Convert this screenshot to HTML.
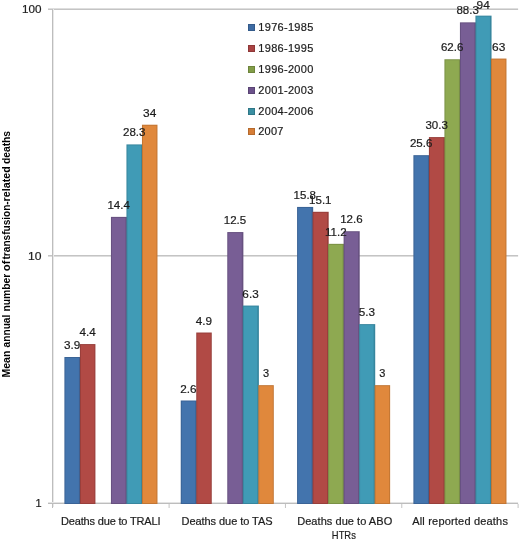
<!DOCTYPE html>
<html><head><meta charset="utf-8"><style>
html,body{margin:0;padding:0;background:#fff;}
svg{display:block;will-change:transform;}
.t{font-family:"Liberation Sans", sans-serif;font-size:11px;fill:#1c1c1c;stroke:#1c1c1c;stroke-width:0.2px;}
.tb{font-family:"Liberation Sans", sans-serif;font-size:11px;font-weight:bold;fill:#000;}
</style></head><body>
<svg width="520" height="540" viewBox="0 0 520 540">
<rect width="520" height="540" fill="#fff"/>
<rect x="48" y="8" width="470.1" height="1" fill="#DEDEDE"/>
<rect x="48" y="9" width="470.1" height="1" fill="#C4C4C4"/>
<rect x="48" y="256" width="470.1" height="1" fill="#DEDEDE"/>
<rect x="48" y="255" width="470.1" height="1" fill="#C4C4C4"/>
<rect x="53" y="9" width="1" height="498.0" fill="#E8E8E8"/>
<rect x="52" y="9" width="1" height="498.0" fill="#BDBDBD"/>
<rect x="48" y="502" width="470.1" height="1" fill="#E4E4E4"/>
<rect x="48" y="503" width="470.1" height="1" fill="#BDBDBD"/>
<rect x="52" y="503" width="1" height="5" fill="#BDBDBD"/>
<rect x="168.60" y="504" width="1" height="4" fill="#C4C4C4"/>
<rect x="284.94" y="504" width="1" height="4" fill="#C4C4C4"/>
<rect x="401.27" y="504" width="1" height="4" fill="#C4C4C4"/>
<rect x="517.60" y="504" width="1" height="4" fill="#C4C4C4"/>
<rect x="64.40" y="357.01" width="16.11" height="146.99" fill="#3A6396"/>
<rect x="65.40" y="358.01" width="13.51" height="144.99" fill="#4374AD"/>
<rect x="79.91" y="344.07" width="15.51" height="159.93" fill="#983F3B"/>
<rect x="80.91" y="345.07" width="13.51" height="157.93" fill="#B14A45"/>
<rect x="110.94" y="216.88" width="16.11" height="287.12" fill="#675180"/>
<rect x="111.94" y="217.88" width="13.51" height="285.12" fill="#785E95"/>
<rect x="126.45" y="144.41" width="16.11" height="359.59" fill="#37869E"/>
<rect x="127.45" y="145.41" width="13.51" height="357.59" fill="#409BB6"/>
<rect x="141.96" y="124.72" width="15.51" height="379.28" fill="#C27634"/>
<rect x="142.96" y="125.72" width="13.51" height="377.28" fill="#E0883C"/>
<rect x="180.74" y="400.50" width="16.11" height="103.50" fill="#3A6396"/>
<rect x="181.74" y="401.50" width="13.51" height="101.50" fill="#4374AD"/>
<rect x="196.25" y="332.52" width="15.51" height="171.48" fill="#983F3B"/>
<rect x="197.25" y="333.52" width="13.51" height="169.48" fill="#B14A45"/>
<rect x="227.27" y="232.06" width="16.11" height="271.94" fill="#675180"/>
<rect x="228.27" y="233.06" width="13.51" height="269.94" fill="#785E95"/>
<rect x="242.78" y="305.56" width="16.11" height="198.44" fill="#37869E"/>
<rect x="243.78" y="306.56" width="13.51" height="196.44" fill="#409BB6"/>
<rect x="258.29" y="385.15" width="15.51" height="118.85" fill="#C27634"/>
<rect x="259.29" y="386.15" width="13.51" height="116.85" fill="#E0883C"/>
<rect x="297.07" y="206.93" width="16.11" height="297.07" fill="#3A6396"/>
<rect x="298.07" y="207.93" width="13.51" height="295.07" fill="#4374AD"/>
<rect x="312.58" y="211.79" width="16.11" height="292.21" fill="#983F3B"/>
<rect x="313.58" y="212.79" width="13.51" height="290.21" fill="#B14A45"/>
<rect x="328.09" y="243.84" width="16.11" height="260.16" fill="#7A9145"/>
<rect x="329.09" y="244.84" width="13.51" height="258.16" fill="#8EA951"/>
<rect x="343.60" y="231.21" width="16.11" height="272.79" fill="#675180"/>
<rect x="344.60" y="232.21" width="13.51" height="270.79" fill="#785E95"/>
<rect x="359.11" y="324.10" width="16.11" height="179.90" fill="#37869E"/>
<rect x="360.11" y="325.10" width="13.51" height="177.90" fill="#409BB6"/>
<rect x="374.62" y="385.15" width="15.51" height="118.85" fill="#C27634"/>
<rect x="375.62" y="386.15" width="13.51" height="116.85" fill="#E0883C"/>
<rect x="413.40" y="155.16" width="16.11" height="348.84" fill="#3A6396"/>
<rect x="414.40" y="156.16" width="13.51" height="346.84" fill="#4374AD"/>
<rect x="428.91" y="137.08" width="16.11" height="366.92" fill="#983F3B"/>
<rect x="429.91" y="138.08" width="13.51" height="364.92" fill="#B14A45"/>
<rect x="444.42" y="59.25" width="16.11" height="444.75" fill="#7A9145"/>
<rect x="445.42" y="60.25" width="13.51" height="442.75" fill="#8EA951"/>
<rect x="459.93" y="22.35" width="16.11" height="481.65" fill="#675180"/>
<rect x="460.93" y="23.35" width="13.51" height="479.65" fill="#785E95"/>
<rect x="475.44" y="15.64" width="16.11" height="488.36" fill="#37869E"/>
<rect x="476.44" y="16.64" width="13.51" height="486.36" fill="#409BB6"/>
<rect x="490.96" y="58.56" width="15.51" height="445.44" fill="#C27634"/>
<rect x="491.96" y="59.56" width="13.51" height="443.44" fill="#E0883C"/>
<text x="41.5" y="12.8" text-anchor="end" class="t" textLength="19.5" lengthAdjust="spacingAndGlyphs">100</text>
<text x="41.5" y="259.8" text-anchor="end" class="t" textLength="13.5" lengthAdjust="spacingAndGlyphs">10</text>
<text x="41.5" y="506.8" text-anchor="end" class="t">1</text>
<text x="72.16" y="349.01" text-anchor="middle" class="t" textLength="16.30" lengthAdjust="spacingAndGlyphs">3.9</text>
<text x="87.67" y="336.07" text-anchor="middle" class="t" textLength="16.30" lengthAdjust="spacingAndGlyphs">4.4</text>
<text x="118.69" y="208.88" text-anchor="middle" class="t" textLength="22.42" lengthAdjust="spacingAndGlyphs">14.4</text>
<text x="134.20" y="136.41" text-anchor="middle" class="t" textLength="22.42" lengthAdjust="spacingAndGlyphs">28.3</text>
<text x="149.71" y="116.72" text-anchor="middle" class="t" textLength="13.25" lengthAdjust="spacingAndGlyphs">34</text>
<text x="188.49" y="392.50" text-anchor="middle" class="t" textLength="16.30" lengthAdjust="spacingAndGlyphs">2.6</text>
<text x="204.00" y="324.52" text-anchor="middle" class="t" textLength="16.30" lengthAdjust="spacingAndGlyphs">4.9</text>
<text x="235.02" y="224.06" text-anchor="middle" class="t" textLength="22.42" lengthAdjust="spacingAndGlyphs">12.5</text>
<text x="250.54" y="297.56" text-anchor="middle" class="t" textLength="16.30" lengthAdjust="spacingAndGlyphs">6.3</text>
<text x="266.05" y="377.15" text-anchor="middle" class="t" textLength="6.12" lengthAdjust="spacingAndGlyphs">3</text>
<text x="304.82" y="198.93" text-anchor="middle" class="t" textLength="22.42" lengthAdjust="spacingAndGlyphs">15.8</text>
<text x="320.33" y="203.79" text-anchor="middle" class="t" textLength="22.42" lengthAdjust="spacingAndGlyphs">15.1</text>
<text x="335.85" y="235.84" text-anchor="middle" class="t" textLength="21.59" lengthAdjust="spacingAndGlyphs">11.2</text>
<text x="351.36" y="223.21" text-anchor="middle" class="t" textLength="22.42" lengthAdjust="spacingAndGlyphs">12.6</text>
<text x="366.87" y="316.10" text-anchor="middle" class="t" textLength="16.30" lengthAdjust="spacingAndGlyphs">5.3</text>
<text x="382.38" y="377.15" text-anchor="middle" class="t" textLength="6.12" lengthAdjust="spacingAndGlyphs">3</text>
<text x="421.16" y="147.16" text-anchor="middle" class="t" textLength="22.42" lengthAdjust="spacingAndGlyphs">25.6</text>
<text x="436.67" y="129.08" text-anchor="middle" class="t" textLength="22.42" lengthAdjust="spacingAndGlyphs">30.3</text>
<text x="452.18" y="51.25" text-anchor="middle" class="t" textLength="22.42" lengthAdjust="spacingAndGlyphs">62.6</text>
<text x="467.69" y="14.35" text-anchor="middle" class="t" textLength="22.42" lengthAdjust="spacingAndGlyphs">88.3</text>
<text x="483.20" y="8.80" text-anchor="middle" class="t" textLength="13.25" lengthAdjust="spacingAndGlyphs">94</text>
<text x="498.71" y="50.56" text-anchor="middle" class="t" textLength="13.25" lengthAdjust="spacingAndGlyphs">63</text>
<text x="110.75" y="524.6" text-anchor="middle" class="t" textLength="99.5" lengthAdjust="spacing">Deaths due to TRALI</text>
<text x="227.05" y="524.6" text-anchor="middle" class="t" textLength="91" lengthAdjust="spacing">Deaths due to TAS</text>
<text x="344.70" y="524.6" text-anchor="middle" class="t" textLength="95" lengthAdjust="spacing">Deaths due to ABO</text>
<text x="343.85" y="538.9" text-anchor="middle" class="t" textLength="24" lengthAdjust="spacingAndGlyphs">HTRs</text>
<text x="460.05" y="524.6" text-anchor="middle" class="t" textLength="95.7" lengthAdjust="spacing">All reported deaths</text>
<rect x="248.5" y="24.5" width="6" height="6" fill="#3D6BA3" stroke="#335A8A" stroke-width="1"/>
<text x="258.3" y="31" class="t" textLength="55" lengthAdjust="spacing">1976-1985</text>
<rect x="248.5" y="45.5" width="6" height="6" fill="#AA4343" stroke="#8E3737" stroke-width="1"/>
<text x="258.3" y="52" class="t" textLength="55" lengthAdjust="spacing">1986-1995</text>
<rect x="248.5" y="66.5" width="6" height="6" fill="#829D47" stroke="#6D843B" stroke-width="1"/>
<text x="258.3" y="73" class="t" textLength="55" lengthAdjust="spacing">1996-2000</text>
<rect x="248.5" y="87.5" width="6" height="6" fill="#6C528B" stroke="#5A4474" stroke-width="1"/>
<text x="258.3" y="94" class="t" textLength="55" lengthAdjust="spacing">2001-2003</text>
<rect x="248.5" y="108.5" width="6" height="6" fill="#3A8FA2" stroke="#2F7787" stroke-width="1"/>
<text x="258.3" y="115" class="t" textLength="55" lengthAdjust="spacing">2004-2006</text>
<rect x="248.5" y="128.5" width="6" height="6" fill="#D67D36" stroke="#B56A2D" stroke-width="1"/>
<text x="258.3" y="135" class="t" textLength="25" lengthAdjust="spacing">2007</text>
<text transform="translate(10,377.60) rotate(-90)" class="tb" textLength="27.10" lengthAdjust="spacingAndGlyphs">Mean</text>
<text transform="translate(10,347.40) rotate(-90)" class="tb" textLength="32.70" lengthAdjust="spacingAndGlyphs">annual</text>
<text transform="translate(10,311.60) rotate(-90)" class="tb" textLength="38.00" lengthAdjust="spacingAndGlyphs">number</text>
<text transform="translate(10,271.20) rotate(-90)" class="tb" textLength="10.70" lengthAdjust="spacingAndGlyphs">of</text>
<text transform="translate(10,259.50) rotate(-90)" class="tb" textLength="58.20" lengthAdjust="spacingAndGlyphs">transfusion-</text>
<text transform="translate(10,201.40) rotate(-90)" class="tb" textLength="35.10" lengthAdjust="spacingAndGlyphs">related</text>
<text transform="translate(10,164.10) rotate(-90)" class="tb" textLength="33.20" lengthAdjust="spacingAndGlyphs">deaths</text>
</svg>
</body></html>
